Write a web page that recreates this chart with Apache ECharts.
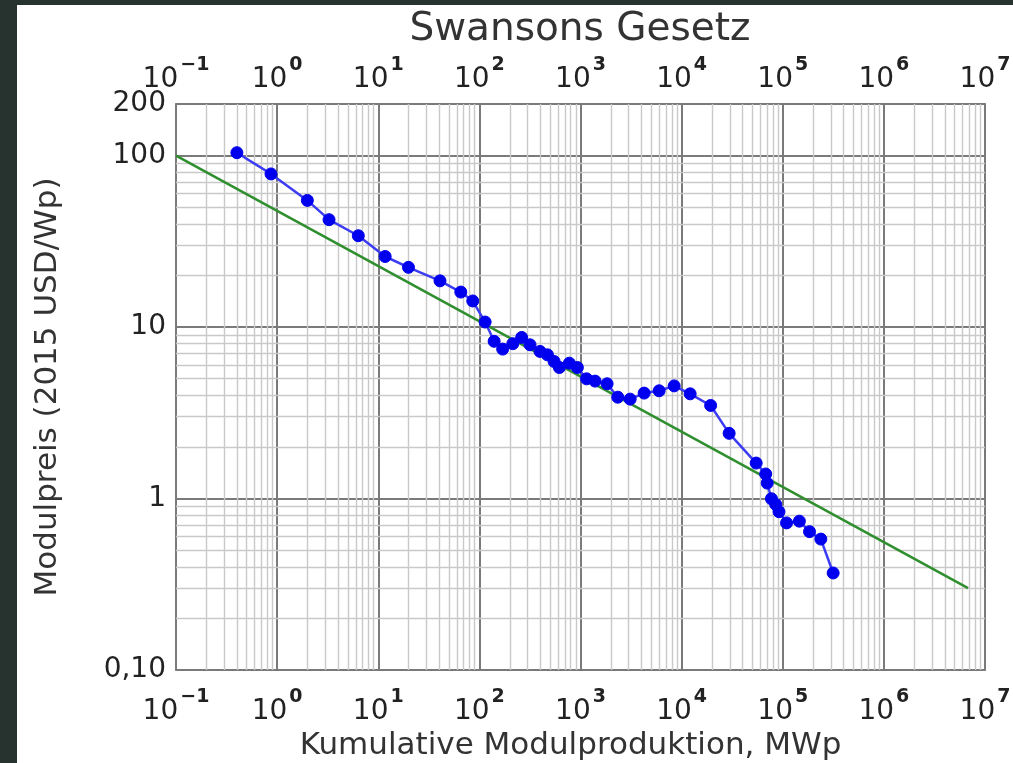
<!DOCTYPE html>
<html>
<head>
<meta charset="utf-8">
<script src="https://cdn.jsdelivr.net/npm/echarts@6/dist/echarts.min.js"></script>
<style>
  html, body { margin: 0; padding: 0; background: #26332e; width: 1013px; height: 763px; overflow: hidden; }
  #chart { position: absolute; left: 17px; top: 5px; width: 996px; height: 758px; background: #ffffff; }
</style>
</head>
<body>
<div id="chart"></div>
<script>
// ---- data ----
const cumProduction = [0.40, 0.87, 1.99, 3.26, 6.35, 11.7, 19.9, 40.8, 65.5, 86,
  114, 140, 170, 214, 262, 317, 398, 471, 548, 618,
  776, 931, 1148, 1393, 1832, 2337, 3097, 4260, 5995, 8440,
  12140, 19360, 29500, 54600, 67800, 70200, 77300, 85200, 91800, 109000,
  146000, 184000, 238000, 315000];
const modulePrice = [104, 78.2, 54.8, 42.3, 34.1, 25.8, 22.3, 18.6, 16.0, 14.2,
  10.7, 8.26, 7.44, 8.0, 8.7, 7.88, 7.21, 6.89, 6.30, 5.81,
  6.16, 5.81, 4.99, 4.84, 4.67, 3.90, 3.80, 4.12, 4.25, 4.54,
  4.08, 3.49, 2.40, 1.61, 1.39, 1.23, 0.997, 0.924, 0.838, 0.721,
  0.738, 0.641, 0.580, 0.368];
const trendX = [0.1, 6.8e6];
const trendY = [100, 0.30];
const xExponentLabels = {'-1': '\u22121', '0': '0', '1': '1', '2': '2', '3': '3', '4': '4', '5': '5', '6': '6', '7': '7'};
const yTickLabels = {'0.1': '0,10', '1': '1', '10': '10', '100': '100', '200': '200'};
const titleText = 'Swansons Gesetz';
const xAxisTitle = 'Kumulative Modulproduktion, MWp';
const yAxisTitle = 'Modulpreis (2015 USD/Wp)';

// ---- build ----
const FONT = 'DejaVu Sans';
const X_MIN = 0.1, X_MAX = 1e7, Y_MIN = 0.1, Y_MAX = 200;

function xLabel(v) {
  const e = Math.round(Math.log10(v));
  const s = xExponentLabels[String(e)];
  if (s === undefined) return '';
  return '{b|10}{s|' + s + '}';
}
function yLabel(v) {
  const keys = Object.keys(yTickLabels);
  for (const k of keys) {
    if (Math.abs(Math.log10(v) - Math.log10(parseFloat(k))) < 0.01) return yTickLabels[k];
  }
  return '';
}

// minor grid positions (2..9 x 10^k) within the axis ranges
const minorX = [], minorY = [];
for (let k = Math.round(Math.log10(X_MIN)); k < Math.round(Math.log10(X_MAX)); k++) {
  for (let m = 2; m <= 9; m++) minorX.push({ xAxis: m * Math.pow(10, k) });
}
for (let k = Math.round(Math.log10(Y_MIN)); k < 2; k++) {
  for (let m = 2; m <= 9; m++) minorY.push({ yAxis: m * Math.pow(10, k) });
}

const richLabel = {
  b: { fontFamily: FONT, fontSize: 28, color: '#222', verticalAlign: 'bottom', lineHeight: 38 },
  s: { fontFamily: FONT, fontSize: 19, fontWeight: 'bold', color: '#222', verticalAlign: 'top', lineHeight: 38, padding: [0, 0, 0, 2] }
};

const chart = echarts.init(document.getElementById('chart'), null, { renderer: 'canvas' });
chart.setOption({
  backgroundColor: '#ffffff',
  animation: false,
  graphic: [{
    type: 'text',
    x: 563, y: 25,
    style: { text: titleText, fontFamily: FONT, fontSize: 39, fill: '#333', textAlign: 'center', textVerticalAlign: 'middle' }
  }],
  grid: { left: 159, top: 99, right: 28, bottom: 93, show: true, borderColor: '#8a8a8a', borderWidth: 2,
          backgroundColor: 'transparent', containLabel: false, outerBoundsMode: 'none' },
  xAxis: [{
    type: 'log', logBase: 10, min: X_MIN, max: X_MAX, interval: 1, position: 'bottom',
    axisLine: { show: false }, axisTick: { show: false },
    axisLabel: { formatter: xLabel, rich: richLabel, margin: 18, showMinLabel: true, showMaxLabel: true },
    splitLine: { show: true, lineStyle: { color: '#7a7a7a', width: 2 } },
    name: xAxisTitle, nameLocation: 'middle', nameGap: 60,
    nameTextStyle: { fontFamily: FONT, fontSize: 31, color: '#333', padding: [0, 20, 0, 0] }
  }, {
    type: 'log', logBase: 10, min: X_MIN, max: X_MAX, interval: 1, position: 'top',
    axisLine: { show: false }, axisTick: { show: false },
    axisLabel: { formatter: xLabel, rich: richLabel, margin: 10, showMinLabel: true, showMaxLabel: true },
    splitLine: { show: false }
  }],
  yAxis: [{
    type: 'log', logBase: 10, min: Y_MIN, max: Y_MAX, interval: 1,
    axisLine: { show: false }, axisTick: { show: false },
    axisLabel: { formatter: yLabel, fontFamily: FONT, fontSize: 28, color: '#222', margin: 10, showMinLabel: true, showMaxLabel: true },
    splitLine: { show: true, lineStyle: { color: '#7a7a7a', width: 2 } },
    name: yAxisTitle, nameLocation: 'middle', nameGap: 113, nameRotate: 90,
    nameTextStyle: { fontFamily: FONT, fontSize: 31, color: '#333' }
  }],
  series: [{
    type: 'line', name: 'minor', data: [], z: 1, silent: true,
    markLine: {
      silent: true, symbol: 'none', animation: false, z: 1,
      label: { show: false },
      lineStyle: { color: '#c9c9c9', width: 1.4, type: 'solid' },
      data: minorX.concat(minorY)
    }
  }, {
    type: 'line', name: 'Trend',
    data: trendX.map((x, i) => [x, trendY[i]]),
    symbol: 'none', z: 3,
    lineStyle: { color: '#2f8f2f', width: 2.5 }
  }, {
    type: 'line', name: 'Modulpreis',
    data: cumProduction.map((x, i) => [x, modulePrice[i]]),
    symbol: 'circle', symbolSize: 12, z: 4,
    itemStyle: { color: '#0000ee', borderColor: '#0000ee', borderWidth: 1 },
    lineStyle: { color: '#3c3cf5', width: 2.5 }
  }]
});
</script>
</body>
</html>
